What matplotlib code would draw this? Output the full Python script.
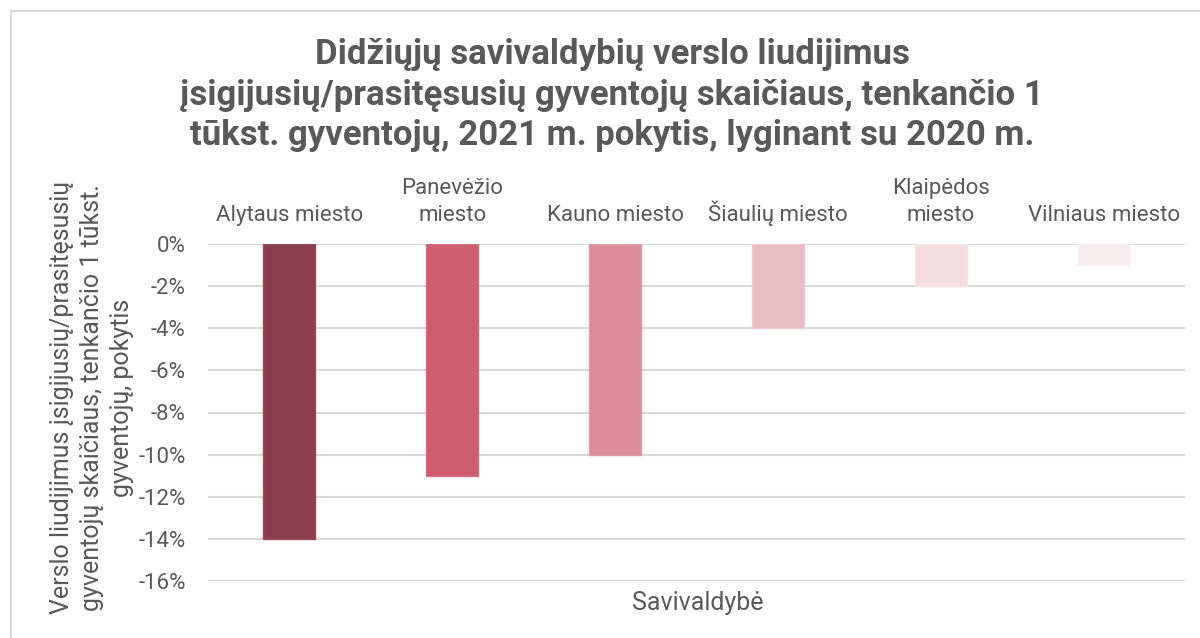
import matplotlib
matplotlib.use("Agg")
import matplotlib.pyplot as plt
from matplotlib.patches import Rectangle
from matplotlib.ticker import FuncFormatter

categories = ["Alytaus miesto", "Panevėžio\nmiesto", "Kauno miesto",
              "Šiaulių miesto", "Klaipėdos\nmiesto", "Vilniaus miesto"]
values = [-14, -11, -10, -4, -2, -1]
colors = ["#8B3E4E", "#CD5E6F", "#DD8D9A", "#E9BDC6", "#F4DCE0", "#F9ECEE"]
edge_colors = ["#9A4A5A", "#D96F80", "#E49CA8", "#EEC8CF", "#F6E2E5", "#FAF0F2"]
yticks = [0, -2, -4, -6, -8, -10, -12, -14, -16]

title = ("Didžiųjų savivaldybių verslo liudijimus\n"
         "įsigijusių/prasitęsusių gyventojų skaičiaus, tenkančio 1\n"
         "tūkst. gyventojų, 2021 m. pokytis, lyginant su 2020 m.")
ylabel = ("Verslo liudijimus įsigijusių/prasitęsusių\n"
          "gyventojų skaičiaus, tenkančio 1 tūkst.\n"
          "gyventojų, pokytis")
xlabel = "Savivaldybė"

plt.rcParams['font.family'] = ['Roboto', 'DejaVu Sans']
TXT = "#595959"

W, H = 1200, 638
fig = plt.figure(figsize=(12, 6.38), dpi=100)
fig.patch.set_facecolor("white")

# chart border
fig.patches.append(Rectangle((11 / W, -0.05), 1.1, 1 - 11 / H + 0.05,
                             transform=fig.transFigure, fill=False,
                             edgecolor="#D9D9D9", linewidth=1.5, zorder=0))

ax = fig.add_axes([208 / W, 1 - 581 / H, (1185 - 208) / W, (581 - 244) / H])
x = list(range(len(categories)))
ax.bar(x, values, width=0.32, color=colors, edgecolor=edge_colors,
       linewidth=1, zorder=3)
ax.set_xlim(-0.5, len(categories) - 0.5)
ax.set_ylim(-16, 0)
ax.set_yticks(yticks)
ax.yaxis.set_major_formatter(FuncFormatter(lambda v, p: f"{int(round(v))}%"))
ax.grid(axis="y", color="#D9D9D9", linewidth=1.5, zorder=0)
ax.set_axisbelow(True)
for s in ax.spines.values():
    s.set_visible(False)
ax.xaxis.tick_top()
ax.set_xticks(x)
ax.set_xticklabels(categories, fontsize=16, color=TXT, linespacing=1.35)
ax.tick_params(axis="x", length=0, pad=13)
ax.tick_params(axis="y", length=0, pad=16, labelsize=16, labelcolor=TXT)

fig.text(612 / W, 1 - 95 / H, title, ha="center", va="center", fontsize=25,
         fontweight="bold", color=TXT, linespacing=1.3)
fig.text(92 / W, 1 - 398 / H, ylabel, ha="center", va="center", rotation=90,
         fontsize=18, color=TXT, linespacing=1.3)
fig.text(698 / W, 1 - 603 / H, xlabel, ha="center", va="center",
         fontsize=18, color=TXT)

fig.savefig("out.png", dpi=100, facecolor="white")
